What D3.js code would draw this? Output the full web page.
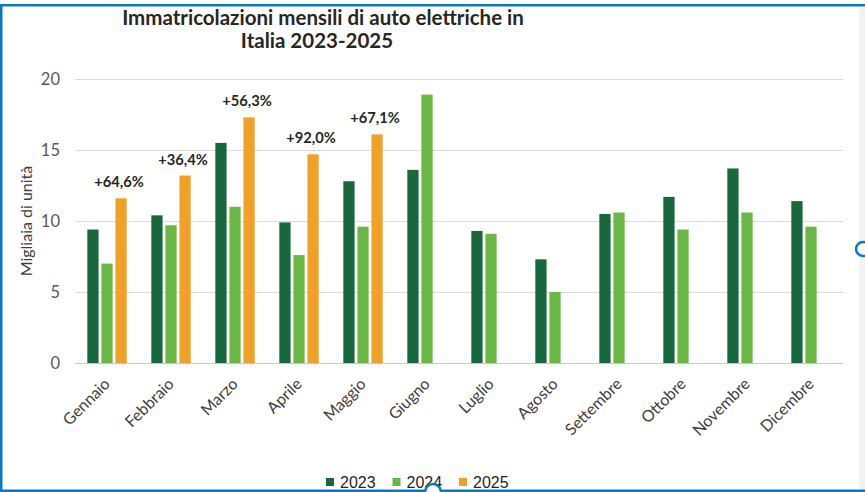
<!DOCTYPE html>
<html>
<head>
<meta charset="utf-8">
<script src="https://cdn.jsdelivr.net/npm/d3@7"></script>
<style>
  body { margin: 0; background: #fff; }
  svg { display: block; }
</style>
</head>
<body>
<svg id="chart" width="865" height="492"></svg>
<script>
// dati (migliaia di unità)
const mesi = ["Gennaio", "Febbraio", "Marzo", "Aprile", "Maggio", "Giugno",
  "Luglio", "Agosto", "Settembre", "Ottobre", "Novembre", "Dicembre"];
const anni = ["2023", "2024", "2025"];
const v2023 = [9.4, 10.4, 15.5, 9.9, 12.8, 13.6, 9.3, 7.3, 10.5, 11.7, 13.7, 11.4];
const v2024 = [7.0, 9.7, 11.0, 7.6, 9.6, 18.9, 9.1, 5.0, 10.6, 9.4, 10.6, 9.6];
const v2025 = [11.6, 13.2, 17.3, 14.7, 16.1];
const variazioni = ["+64,6%", "+36,4%", "+56,3%", "+92,0%", "+67,1%"];
const yTicks = [0, 5, 10, 15, 20];

const colori = { "2023": "#17693b", "2024": "#6ab745", "2025": "#f0a12b" };
const serie = { "2023": v2023, "2024": v2024, "2025": v2025 };

const svg = d3.select("#chart");

// cornice (selezione) blu
const blu = "#0d78bd";
svg.append("rect").attr("x", 859).attr("y", 7).attr("width", 6).attr("height", 485).attr("fill", "#f2f2f2");
svg.append("rect").attr("x", 0).attr("y", 4).attr("width", 865).attr("height", 2.5).attr("fill", blu);
svg.append("rect").attr("x", 0).attr("y", 4).attr("width", 2.5).attr("height", 488).attr("fill", blu);
svg.append("rect").attr("x", 0).attr("y", 489.5).attr("width", 865).attr("height", 2.5).attr("fill", blu);

const x0 = d3.scaleBand().domain(mesi).range([75, 843]).paddingInner(0.385).paddingOuter(0.1925);
const x1 = d3.scaleBand().domain(anni).range([0, x0.bandwidth()]).paddingInner(0.2);
const y = d3.scaleLinear().domain([0, 20]).range([363, 79]);

// griglia
svg.append("g").selectAll("line").data(yTicks).join("line")
  .attr("x1", 75).attr("x2", 843)
  .attr("y1", d => y(d) + 0.5).attr("y2", d => y(d) + 0.5)
  .attr("stroke", d => d === 0 ? "#c8c8c8" : "#dadada")
  .attr("stroke-width", 1.2);

// asse y
const yAxis = svg.append("g").attr("transform", "translate(60,0)")
  .call(d3.axisLeft(y).tickValues(yTicks).tickSize(0).tickPadding(0));
yAxis.select(".domain").remove();
yAxis.selectAll("text")
  .attr("font-family", "Lato").attr("font-size", 16.5).attr("fill", "#595959");

svg.append("text")
  .attr("transform", "translate(32,221) rotate(-90)")
  .attr("text-anchor", "middle")
  .attr("font-family", "Lato").attr("font-size", 16).attr("fill", "#404040")
  .text("Migliaia di unità");

// barre
anni.forEach(anno => {
  svg.append("g").selectAll("rect").data(serie[anno]).join("rect")
    .attr("x", (d, i) => x0(mesi[i]) + x1(anno))
    .attr("y", d => y(d))
    .attr("width", x1.bandwidth())
    .attr("height", d => y(0) - y(d))
    .attr("fill", colori[anno]);
});

// etichette variazione 2025
svg.append("g").selectAll("text").data(variazioni).join("text")
  .attr("x", (d, i) => x0(mesi[i]) + x1("2025") + x1.bandwidth() / 2 - 2)
  .attr("y", (d, i) => y(v2025[i]) - 11)
  .attr("text-anchor", "middle")
  .attr("font-family", "Lato").attr("font-weight", "bold").attr("font-size", 14.7)
  .attr("fill", "#262626")
  .text(d => d);

// etichette mesi
svg.append("g").selectAll("text").data(mesi).join("text")
  .attr("transform", d => `translate(${x0(d) + x0.bandwidth() / 2 + 4},385) rotate(-45)`)
  .attr("text-anchor", "end")
  .attr("font-family", "Lato").attr("font-size", 16).attr("fill", "#404040")
  .text(d => d);

// titolo
const titolo = svg.append("text")
  .attr("font-family", "Lato").attr("font-weight", "bold").attr("font-size", 20.5)
  .attr("fill", "#262626").attr("text-anchor", "middle");
titolo.append("tspan").attr("x", 323).attr("y", 25).text("Immatricolazioni mensili di auto elettriche in");
titolo.append("tspan").attr("x", 317).attr("y", 48).text("Italia 2023-2025");

// legenda
const leg = svg.append("g").selectAll("g").data(anni).join("g")
  .attr("transform", (d, i) => `translate(${326 + i * 66.5},0)`);
leg.append("rect").attr("x", 0).attr("y", 478).attr("width", 8).attr("height", 8)
  .attr("fill", d => colori[d]);
leg.append("text").attr("x", 14).attr("y", 488)
  .attr("font-family", "Liberation Sans").attr("font-size", 16).attr("fill", "#262626")
  .text(d => d);

// maniglie di selezione
svg.append("circle").attr("cx", 863).attr("cy", 249).attr("r", 7)
  .attr("fill", "#fff").attr("stroke", blu).attr("stroke-width", 2.5);
svg.append("circle").attr("cx", 433).attr("cy", 492).attr("r", 8)
  .attr("fill", "#fff").attr("stroke", blu).attr("stroke-width", 2.5);
</script>
</body>
</html>
